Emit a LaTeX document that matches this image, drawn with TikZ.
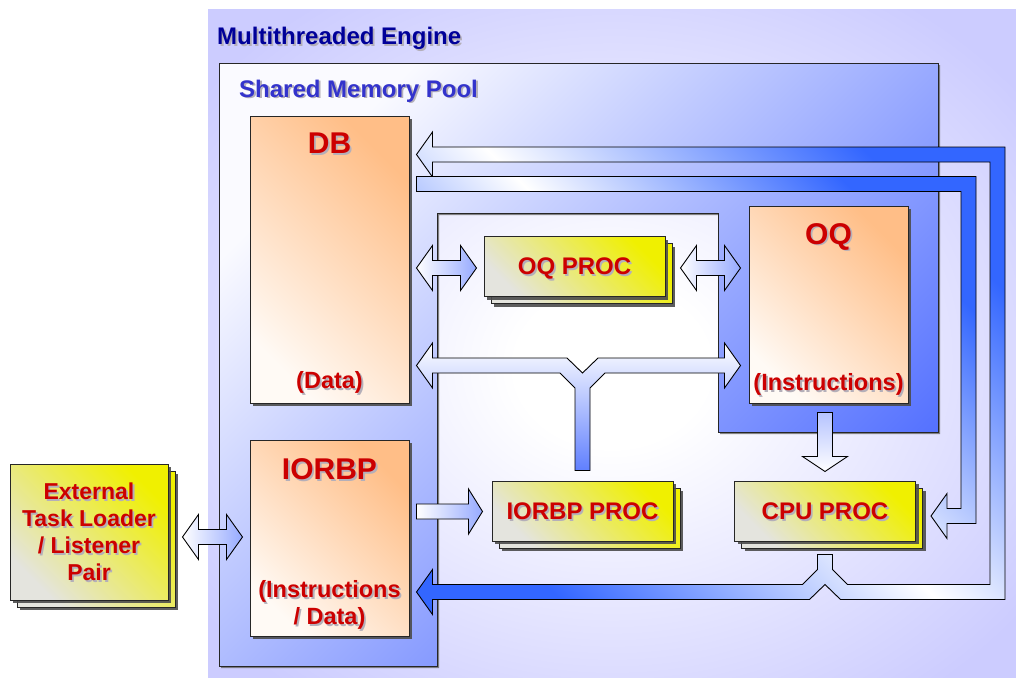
\documentclass[tikz,border=0pt]{standalone}
\usepackage{fontspec}
\setmainfont{Liberation Sans}
\usepackage{tikz}
\usetikzlibrary{calc,positioning,shadows}

\definecolor{englav}{RGB}{204,204,255}
\definecolor{poolwhite}{RGB}{250,250,255}
\definecolor{poolblue}{RGB}{77,107,255}
\definecolor{peach}{RGB}{255,190,135}
\definecolor{peachlight}{RGB}{255,250,245}
\definecolor{procyellow}{RGB}{240,240,0}
\definecolor{procgray}{RGB}{228,228,222}
\definecolor{arrowblue}{RGB}{150,170,255}
\definecolor{stemblue}{RGB}{96,128,255}
\definecolor{pipeblue}{RGB}{51,102,255}
\definecolor{labelred}{RGB}{204,0,0}
\definecolor{enginenavy}{RGB}{0,0,153}
\definecolor{poolnavy}{RGB}{51,51,204}
\definecolor{textshade}{RGB}{180,175,185}

\pgfdeclareradialshading{enginebg}{\pgfpoint{0bp}{-2bp}}{color(0bp)=(white); color(6bp)=(white); color(32bp)=(englav); color(50bp)=(englav)}

\newcommand{\enginefont}{\fontsize{24}{28}\selectfont\bfseries}
\newcommand{\memtitlefont}{\fontsize{30}{34}\selectfont\bfseries}
\newcommand{\memsubfont}{\fontsize{23.5}{27}\selectfont\bfseries}
\newcommand{\proclabelfont}{\fontsize{24}{27}\selectfont\bfseries}
\newcommand{\loaderfont}{\fontsize{23}{27}\selectfont\bfseries}
% text with a grey drop shadow
\newcommand{\withshadow}[1]{\rlap{\smash{\kern1.8pt\raisebox{-1.8pt}{\textcolor{textshade}{#1}}}}#1}

\tikzstyle{headline}=[anchor=base west, inner sep=0pt, font=\enginefont]
\tikzstyle{boxshadow}=[drop shadow={shadow xshift=3pt, shadow yshift=-3pt, fill=black!70, opacity=.9}]
\tikzstyle{pool}=[draw=black!85, line width=1pt, top color=poolwhite, bottom color=poolblue, shading angle=45, drop shadow={shadow xshift=2pt, shadow yshift=-2pt, fill=black!60, opacity=.8}]
\tikzstyle{membox}=[rectangle, draw=black!85, line width=1pt, inner sep=0pt, top color=peach, bottom color=peachlight, shading angle=-45, boxshadow, minimum width=159pt]
\tikzstyle{memtitle}=[inner sep=0pt, font=\memtitlefont, text=labelred]
\tikzstyle{memsub}=[inner sep=0pt, font=\memsubfont, text=labelred]
\tikzstyle{procbox}=[rectangle, draw=black!85, line width=1pt, inner sep=0pt, top color=procyellow, bottom color=procgray, shading angle=-45, boxshadow, minimum width=181pt, minimum height=60pt, text depth=0pt, font=\proclabelfont, text=labelred]
\tikzstyle{blockarrow}=[draw=black, line width=0.9pt, line join=miter, left color=white, right color=arrowblue]
\tikzstyle{pipe}=[draw=black, line width=0.9pt, line join=miter, top color=pipeblue, bottom color=pipeblue, middle color=white, shading angle=-45]

% fat arrows: shaft 15, head 45
\newcommand{\dblharrow}[2]{%
  \draw[blockarrow] let \p1=#1, \p2=#2 in
    (\p1) -- ++(16pt,22.5pt) -- ++(0,-15pt) -- (\x2-16pt,\y1+7.5pt) -- ++(0,15pt)
    -- (\p2) -- ++(-16pt,-22.5pt) -- ++(0,15pt) -- (\x1+16pt,\y1-7.5pt) -- ++(0,-15pt) -- cycle;}
\newcommand{\rblockarrow}[2]{%
  \draw[blockarrow] let \p1=#1, \p2=#2 in
    (\x1,\y1+7.5pt) -- (\x2-14pt,\y1+7.5pt) -- ++(0,15pt) -- (\p2)
    -- ++(-14pt,-22.5pt) -- ++(0,15pt) -- (\x1,\y1-7.5pt) -- cycle;}
\newcommand{\dblockarrow}[2]{%
  \draw[blockarrow, top color=arrowblue!70, bottom color=white] let \p1=#1, \p2=#2 in
    (\x1-7.5pt,\y1) -- (\x1-7.5pt,\y2+15pt) -- ++(-15pt,0) -- (\p2)
    -- ++(22.5pt,15pt) -- ++(-15pt,0) -- (\x1+7.5pt,\y1) -- cycle;}

\begin{document}
\begin{tikzpicture}[x=1pt,y=-1pt]
  \useasboundingbox (0,0) rectangle (1016,677);

  % engine and shared pool
  \shade[shading=enginebg] (208,10) rectangle (1016,677);
  \node[headline, text=enginenavy] (enginetitle) at (217,45) {\withshadow{Multithreaded Engine}};
  \draw[pool] (219,63) -- (938,63) -- (938,432) -- (718,432) -- (718,213) -- (437,213) -- (437,666) -- (219,666) -- cycle;
  \node[headline, text=poolnavy] (pooltitle) at (239,97) {\withshadow{Shared Memory Pool}};

  % memory blocks
  \node[membox, minimum height=287pt] (db) at (329.5,259.5) {};
  \node[membox, minimum height=197pt] (oq) at (828.5,304.5) {};
  \node[membox, minimum height=196pt] (iorbp) at (329.5,538) {};
  \node[memtitle, anchor=base] (dbtitle) at ($(db.north)+(0,38)$) {\withshadow{DB}};
  \node[memsub, anchor=south] (dbsub) at ($(db.south)+(0,-10)$) {\withshadow{(Data)}};
  \node[memtitle, anchor=base] (oqtitle) at ($(oq.north)+(0,38.5)$) {\withshadow{OQ}};
  \node[memsub, anchor=south] (oqsub) at ($(oq.south)+(0,-8)$) {\withshadow{(Instructions)}};
  \node[memtitle, anchor=base] (iorbptitle) at ($(iorbp.north)+(0,40)$) {\withshadow{IORBP}};
  \node[memsub, anchor=south, align=center] (iorbpsub) at ($(iorbp.south)+(0,-7)$) {\withshadow{(Instructions}\\\withshadow{/ Data)}};

  % processes (stacked copies first)
  \node[procbox, minimum width=158pt, minimum height=136pt] (loaderback) at (96,539) {};
  \node[procbox, minimum width=158pt, minimum height=136pt, align=center, font=\loaderfont] (loader) at (89,532)
    {\withshadow{External}\\\withshadow{Task Loader}\\\withshadow{/ Listener}\\\withshadow{Pair}};
  \node[procbox] (oqprocback) at (581.5,273.5) {};
  \node[procbox] (oqproc) at (574.5,266.5) {\withshadow{OQ PROC}};
  \node[procbox] (iorbpprocback) at (589.5,518) {};
  \node[procbox] (iorbpproc) at (582.5,511) {\withshadow{IORBP PROC}};
  \node[procbox] (cpuprocback) at (832,518) {};
  \node[procbox] (cpuproc) at (825,511) {\withshadow{CPU PROC}};

  % arrow ends
  \coordinate (dbl) at ($(db.east |- oqproc)+(7,1.5)$);
  \coordinate (oqprocl) at ($(oqproc.west)+(-7,1.5)$);
  \coordinate (oqprocr) at ($(oqproc.east)+(15,1.5)$);
  \coordinate (oql) at ($(oq.west |- oqproc)+(-8,1.5)$);
  \coordinate (loaderr) at ($(loader.east)+(14,5)$);
  \coordinate (iorbpl) at ($(iorbp.west |- loader)+(-7,5)$);
  \coordinate (iorbpr) at ($(iorbp.east |- iorbpproc)+(7,0.5)$);
  \coordinate (iorbpprocl) at ($(iorbpproc.west)+(-9,0.5)$);
  \coordinate (oqbot) at ($(cpuproc.north |- oq.south)+(0,9)$);
  \coordinate (cpuprocup) at ($(cpuproc.north)+(0,-9)$);
  \coordinate (dbY) at ($(db.south east)+(7,-38)$);
  \coordinate (oqY) at ($(oq.south west)+(-8,-38)$);
  \coordinate (yfoot) at ($(iorbpproc.north)+(0,-10)$);
  \coordinate (dbin) at ($(db.north east)+(7,39)$);
  \coordinate (dbout) at ($(db.north east)+(7,68.5)$);
  \coordinate (iorbpin) at ($(iorbp.south east)+(7,-44.5)$);
  \coordinate (cpuout) at ($(cpuproc.south)+(0,13)$);
  \coordinate (cpuin) at ($(cpuproc.east)+(15,5)$);
  \coordinate (ringA) at (1005,147);
  \coordinate (ringB) at (976,177);

  % straight fat arrows
  \dblharrow{(dbl)}{(oqprocl)}
  \dblharrow{(oqprocr)}{(oql)}
  \dblharrow{(loaderr)}{(iorbpl)}
  \rblockarrow{(iorbpr)}{(iorbpprocl)}
  \dblockarrow{(oqbot)}{(cpuprocup)}

  % DB <-> OQ with branch to IORBP PROC
  \draw[blockarrow, top color=white, bottom color=stemblue] let \p1=(dbY), \p2=(oqY), \p3=(yfoot) in
    (\p1) -- ++(16pt,22.5pt) -- ++(0,-15pt) -- (\x3-15.5pt,\y1+7.5pt) -- (\x3,\y1-7.5pt)
    -- (\x3+15.5pt,\y1+7.5pt) -- (\x2-16pt,\y1+7.5pt) -- ++(0,15pt) -- (\p2)
    -- ++(-16pt,-22.5pt) -- ++(0,15pt) -- (\x3+22.5pt,\y1-7.5pt) -- (\x3+7.5pt,\y1-22.5pt)
    -- (\x3+7.5pt,\y3) -- (\x3-7.5pt,\y3) -- (\x3-7.5pt,\y1-22.5pt) -- (\x3-22.5pt,\y1-7.5pt)
    -- (\x1+16pt,\y1-7.5pt) -- ++(0,-15pt) -- cycle;

  % CPU PROC -> DB and IORBP
  \draw[pipe] let \p1=(iorbpin), \p2=(cpuout), \p3=(ringA), \p4=(dbin) in
    (\p1) -- ++(16pt,22.5pt) -- ++(0,-15pt)
    -- (\x2-22.5pt,\y1+7.5pt) -- (\x2-7.5pt,\y2-15pt) -- (\x2-7.5pt,\y2) -- (\x2+7.5pt,\y2)
    -- (\x2+7.5pt,\y2-15pt) -- (\x2+22.5pt,\y1+7.5pt)
    -- (\x3-15pt,\y1+7.5pt) -- (\x3-15pt,\y4-7.5pt) -- (\x4+16pt,\y4-7.5pt) -- ++(0,-15pt)
    -- (\p4) -- ++(16pt,22.5pt) -- ++(0,-15pt)
    -- (\x3,\y4+7.5pt) -- (\x3,\y1-7.5pt) -- (\x2+15.5pt,\y1-7.5pt) -- (\x2,\y1+7.5pt)
    -- (\x2-15.5pt,\y1-7.5pt) -- (\x1+16pt,\y1-7.5pt) -- ++(0,-15pt) -- cycle;

  % DB -> CPU PROC
  \draw[pipe] let \p1=(dbout), \p2=(cpuin), \p3=(ringB) in
    (\x1,\y1+7.5pt) -- (\x3,\y1+7.5pt) -- (\x3,\y2-7.5pt) -- (\x2+16pt,\y2-7.5pt) -- ++(0,-15pt)
    -- (\p2) -- ++(16pt,22.5pt) -- ++(0,-15pt) -- (\x3-15pt,\y2+7.5pt) -- (\x3-15pt,\y1-7.5pt)
    -- (\x1,\y1-7.5pt) -- cycle;
\end{tikzpicture}
\end{document}
